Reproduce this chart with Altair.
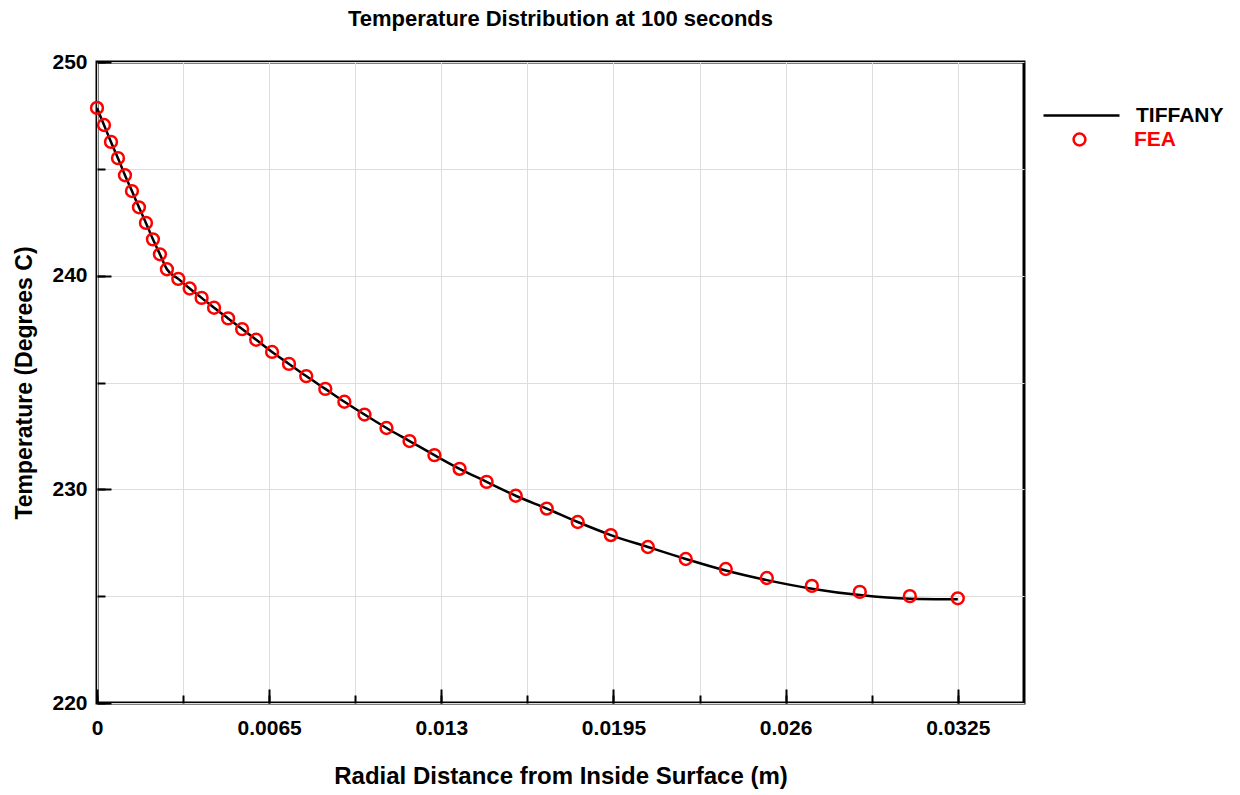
import altair as alt
import pandas as pd

# FEA points (radial distance m, temperature C)
fea_x = [0.0, 0.000264, 0.000528, 0.000792, 0.001056, 0.00132, 0.001584, 0.001848,
         0.002112, 0.002376, 0.00264, 0.00307, 0.0035, 0.00395, 0.00442, 0.00495,
         0.00548, 0.00601, 0.00661, 0.00725, 0.0079, 0.00862, 0.00934, 0.0101,
         0.01093, 0.0118, 0.01274, 0.01369, 0.01471, 0.01581, 0.01698, 0.01815,
         0.0194, 0.0208, 0.02223, 0.02374, 0.02529, 0.02699, 0.0288, 0.03069, 0.0325]
fea_t = [247.85, 247.05, 246.26, 245.5, 244.7, 243.96, 243.2, 242.47,
         241.7, 241.0, 240.3, 239.85, 239.4, 238.96, 238.5, 238.0,
         237.5, 237.0, 236.43, 235.87, 235.3, 234.7, 234.1, 233.5,
         232.87, 232.26, 231.6, 230.96, 230.35, 229.7, 229.1, 228.47,
         227.86, 227.3, 226.74, 226.27, 225.85, 225.48, 225.2, 225.0, 224.9]

# TIFFANY curve
tif_x = fea_x
tif_t = [247.85, 247.05, 246.26, 245.5, 244.7, 243.96, 243.2, 242.47,
         241.7, 241.0, 240.3, 239.85, 239.4, 238.96, 238.5, 238.0,
         237.5, 237.0, 236.43, 235.87, 235.3, 234.7, 234.1, 233.5,
         232.87, 232.26, 231.6, 230.96, 230.35, 229.7, 229.1, 228.47,
         227.86, 227.3, 226.74, 226.2, 225.75, 225.35, 225.05, 224.88, 224.85]

x_major = [0, 0.0065, 0.013, 0.0195, 0.026, 0.0325]
x_minor = [0, 0.00325, 0.0065, 0.00975, 0.013, 0.01625, 0.0195, 0.02275, 0.026, 0.02925, 0.0325]
y_major = [220, 230, 240, 250]
y_minor = [220, 225, 230, 235, 240, 245, 250]

FONT = "Liberation Sans"

fea = pd.DataFrame({"x": fea_x, "t": fea_t, "pt_series": "FEA"})
tif = pd.DataFrame({"x": tif_x, "t": tif_t, "line_series": "TIFFANY"})

xscale = alt.Scale(domain=[0, 0.035], nice=False, zero=False)
yscale = alt.Scale(domain=[220, 250], nice=False, zero=False)

line = alt.Chart(tif).mark_line(color="black", strokeWidth=2.5, interpolate="monotone").encode(
    x=alt.X("x:Q", scale=xscale,
            axis=alt.Axis(orient="bottom", values=x_minor, grid=True, gridColor="#dddddd",
                          gridWidth=1, labels=False, title=None, domain=False,
                          ticks=True, tickSize=8, tickWidth=2, tickColor="black",
                          offset=-8)),
    y=alt.Y("t:Q", scale=yscale,
            axis=alt.Axis(orient="left", values=y_minor, grid=True, gridColor="#dddddd",
                          gridWidth=1, labels=False, title=None, domain=False,
                          ticks=True, tickSize=8, tickWidth=2, tickColor="black",
                          offset=-8)),
    stroke=alt.Stroke("line_series:N", scale=alt.Scale(domain=["TIFFANY"], range=["black"]),
                      legend=alt.Legend(orient="none", legendX=945, legendY=14, title=None,
                                        symbolType="stroke", symbolSize=5776,
                                        symbolStrokeWidth=2.5, symbolStrokeColor="black",
                                        labelFont=FONT, labelFontSize=21, labelFontWeight="bold",
                                        labelColor="black", labelOffset=15, padding=0)),
)

points = alt.Chart(fea).mark_point(shape="circle", filled=False, color="red", size=140,
                                     strokeWidth=2.5, opacity=1).encode(
    x=alt.X("x:Q", scale=xscale,
            axis=alt.Axis(orient="bottom", values=x_major, grid=False, domain=False,
                          ticks=True, tickSize=14, tickWidth=2, tickColor="black",
                          offset=-14, labelPadding=14, labelFont=FONT, labelFontSize=21,
                          labelFontWeight="bold", labelColor="black",
                          labelExpr="datum.value == 0 ? '0' : format(datum.value, '.4~f')",
                          title="Radial Distance from Inside Surface (m)",
                          titleFont=FONT, titleFontSize=24, titleFontWeight="bold",
                          titleColor="black", titlePadding=26, labelFlush=False,
                          labelOverlap=False)),
    y=alt.Y("t:Q", scale=yscale,
            axis=alt.Axis(orient="left", values=y_major, grid=False, domain=False,
                          ticks=True, tickSize=14, tickWidth=2, tickColor="black",
                          offset=-14, labelPadding=10, labelFont=FONT, labelFontSize=21,
                          labelFontWeight="bold", labelColor="black", format="d",
                          title="Temperature (Degrees C)",
                          titleFont=FONT, titleFontSize=23, titleFontWeight="bold",
                          titleColor="black", titlePadding=15, labelFlush=False,
                          labelOverlap=False)),
    shape=alt.Shape("pt_series:N", scale=alt.Scale(domain=["FEA"], range=["circle"]),
                    legend=alt.Legend(orient="none", legendX=972, legendY=67, title=None,
                                      symbolSize=140, symbolStrokeWidth=2.5,
                                      symbolStrokeColor="red", symbolFillColor="transparent",
                                      labelFont=FONT, labelFontSize=21, labelFontWeight="bold",
                                      labelColor="red", labelOffset=44, padding=0)),
)

chart = alt.layer(line, points).resolve_axis(x="independent", y="independent").resolve_legend(
    stroke="independent", shape="independent"
).properties(
    width=927, height=641,
    background="white",
    title=alt.TitleParams("Temperature Distribution at 100 seconds", font=FONT, fontSize=22,
                          fontWeight="bold", color="black", anchor="middle", offset=20),
    autosize=alt.AutoSizeParams(type="none"),
    padding={"left": 97, "top": 62, "right": 216, "bottom": 92},
).configure_view(stroke="black", strokeWidth=3)

chart.save("out.html", embed_options={"renderer": "svg", "actions": False})
